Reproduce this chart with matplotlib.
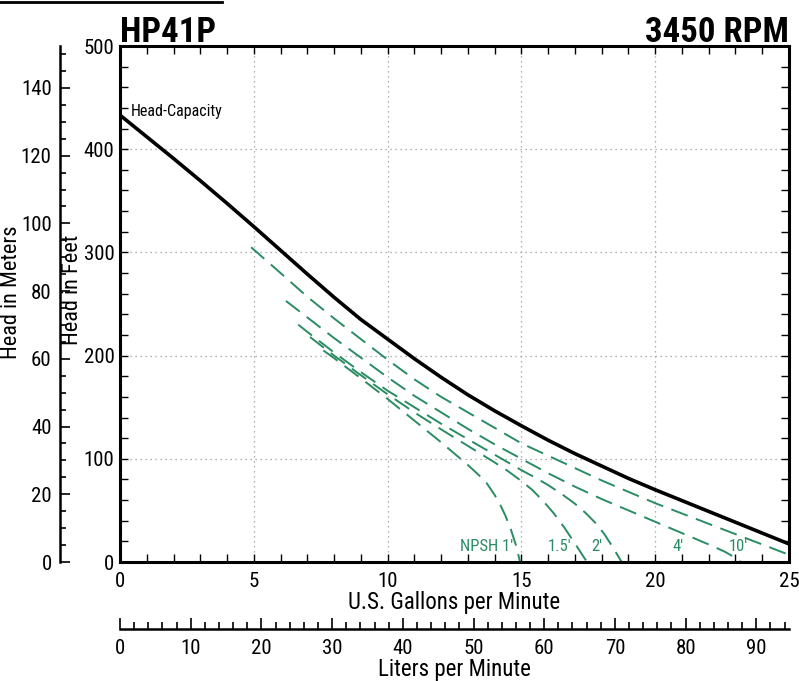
import matplotlib
matplotlib.use("Agg")
import matplotlib.pyplot as plt
from matplotlib import font_manager
from matplotlib.ticker import MultipleLocator
from matplotlib.lines import Line2D

# the chart uses a condensed Helvetica; take a narrow face if one is installed
installed = {f.name for f in font_manager.fontManager.ttflist}
narrow = [n for n in ['Roboto Condensed', 'Liberation Sans Narrow', 'Open Sans Condensed', 'Arial Narrow']
          if n in installed]
if narrow:
    plt.rcParams['font.family'] = [narrow[0], 'DejaVu Sans']
    fs_tick, fs_xlab, fs_ylab, fs_title, fs_small = 15, 16.5, 16, 25, 12
else:
    plt.rcParams['font.family'] = ['Liberation Sans', 'DejaVu Sans']
    fs_tick, fs_xlab, fs_ylab, fs_title, fs_small = 14, 14, 14, 23, 10.5

# head-capacity curve (feet vs US gpm)
gpm_hc = [0, 1, 2, 3, 4, 5, 6, 7, 8, 9, 10, 11, 12, 13, 14, 15, 16, 17, 18, 19, 20, 21, 22, 23, 24, 25]
head_hc = [433, 412, 391, 369.5, 347.5, 325, 302, 279, 256.5, 235, 216, 197, 179, 162, 146.5, 132,
           118, 105, 93, 81, 70, 59.5, 49, 38.5, 28, 17.5]

# NPSH curves
gpm_10 = [4.9, 6, 7, 8, 9, 10, 11, 12, 13, 14, 15, 16, 17, 18, 19, 20, 21, 22, 23, 24, 25]
head_10 = [305, 280, 257, 236, 216, 196, 177, 160, 145, 130, 115, 103, 91, 79, 68, 57, 47, 37, 27, 17, 7]

gpm_4 = [6.2, 7, 8, 9, 10, 11, 12, 13, 14, 15, 16, 17, 18, 19, 20, 21, 22, 22.6, 23.0, 23.2]
head_4 = [253, 237, 217, 198, 179, 161, 145, 129, 114, 100, 86, 73, 61, 50, 39, 28, 17, 10, 4, 0]

gpm_2 = [6.66, 7, 8, 9, 10, 11, 12, 13, 14, 15, 15.5, 16, 16.5, 17, 17.4, 17.8, 18.1, 18.4, 18.7, 18.75]
head_2 = [230, 223, 203, 184, 166, 150, 134, 119, 104, 89, 82, 74.5, 66, 56.5, 47.5, 37, 27, 15, 2, 0]

gpm_15 = [7.1, 8, 9, 10, 11, 12, 13, 14, 14.5, 15, 15.4, 15.8, 16.2, 16.6, 17, 17.3, 17.45]
head_15 = [218, 200, 181, 162.5, 145, 128.5, 112.5, 96.5, 88, 78.5, 70, 59.5, 47.5, 33.5, 18, 6, 0]

gpm_1 = [7.6, 8, 9, 10, 11, 12, 13, 13.5, 13.7, 14.0, 14.2, 14.4, 14.6, 14.8, 14.95]
head_1 = [205, 197.5, 178, 158, 137, 116, 94, 82, 76.5, 65, 56, 45, 32, 16, 0]

npsh_labels = ["NPSH 1'", "1.5'", "2'", "4'", "10'"]
npsh_label_x = [13.68, 16.44, 17.83, 20.85, 23.1]

W, H = 799, 681
fig = plt.figure(figsize=(W / 100, H / 100), dpi=100)

def rect(x0, y0, x1, y1):
    # pixel box -> figure fraction
    return [x0 / W, 1 - y1 / H, (x1 - x0) / W, (y1 - y0) / H]

green = '#2a8c62'
ax = fig.add_axes(rect(120, 46, 789, 562))
ax.set_xlim(0, 25)
ax.set_ylim(0, 500)
for s in ax.spines.values():
    s.set_linewidth(2.2)
ax.xaxis.set_major_locator(MultipleLocator(5))
ax.xaxis.set_minor_locator(MultipleLocator(1))
ax.yaxis.set_major_locator(MultipleLocator(100))
ax.yaxis.set_minor_locator(MultipleLocator(20))
ax.tick_params(which='both', direction='in', top=True, right=True, width=1.0, length=6, labelsize=fs_tick)
ax.tick_params(axis='x', pad=7)
ax.tick_params(axis='y', pad=4)
ax.grid(True, which='major', color='#999999', linestyle=(0, (1, 3)), linewidth=0.9)

ax.plot(gpm_hc, head_hc, color='black', linewidth=2.6, solid_joinstyle='round')
for gx, hy in [(gpm_10, head_10), (gpm_4, head_4), (gpm_2, head_2), (gpm_15, head_15), (gpm_1, head_1)]:
    ax.plot(gx, hy, color=green, linewidth=1.4, dashes=(9, 4.5))

ax.text(0.41, 437, 'Head-Capacity', fontsize=fs_small - 0.5, ha='left', va='center')
for lab, lx in zip(npsh_labels, npsh_label_x):
    ax.text(lx, 15, lab, fontsize=fs_small, color=green, ha='center', va='center')

ax.set_xlabel('U.S. Gallons per Minute', fontsize=fs_xlab, labelpad=0)

# meters axis
axm = fig.add_axes(rect(60, 46, 61, 562))
axm.set_ylim(0, 500 * 0.3048)
axm.set_xticks([])
for k in ['top', 'right', 'bottom']:
    axm.spines[k].set_visible(False)
axm.spines['left'].set_linewidth(1.8)
axm.yaxis.set_major_locator(MultipleLocator(20))
axm.yaxis.set_minor_locator(MultipleLocator(5))
axm.tick_params(which='both', direction='in', width=1.2, labelsize=fs_tick, pad=6)
axm.tick_params(which='major', length=7)
axm.tick_params(which='minor', length=4)
axm.patch.set_visible(False)

# liters axis
axl = fig.add_axes(rect(120, 628, 789, 629))
axl.set_xlim(0, 25 * 3.785)
axl.set_yticks([])
for k in ['top', 'right', 'left']:
    axl.spines[k].set_visible(False)
axl.spines['bottom'].set_linewidth(1.8)
axl.xaxis.set_major_locator(MultipleLocator(10))
axl.xaxis.set_minor_locator(MultipleLocator(2))
axl.tick_params(which='both', direction='in', width=1.2, labelsize=fs_tick, pad=7)
axl.tick_params(which='major', length=8)
axl.tick_params(which='minor', length=5)
axl.patch.set_visible(False)
axl.set_xlabel('Liters per Minute', fontsize=fs_xlab, labelpad=0)

fig.text(12 / W, 1 - 292 / H, 'Head in Meters', rotation=90, fontsize=fs_ylab, ha='center', va='center')
fig.text(73 / W, 1 - 290 / H, 'Head in Feet', rotation=90, fontsize=fs_ylab, ha='center', va='center')

fig.text(120 / W, 1 - 42 / H, 'HP41P', fontsize=fs_title, fontweight='bold', ha='left', va='baseline')
fig.text(789 / W, 1 - 42 / H, '3450 RPM', fontsize=fs_title, fontweight='bold', ha='right', va='baseline')

fig.add_artist(Line2D([0, 222 / W], [1 - 1.5 / H, 1 - 1.5 / H], color='black', linewidth=2.0))

fig.savefig('out.png', dpi=100)
